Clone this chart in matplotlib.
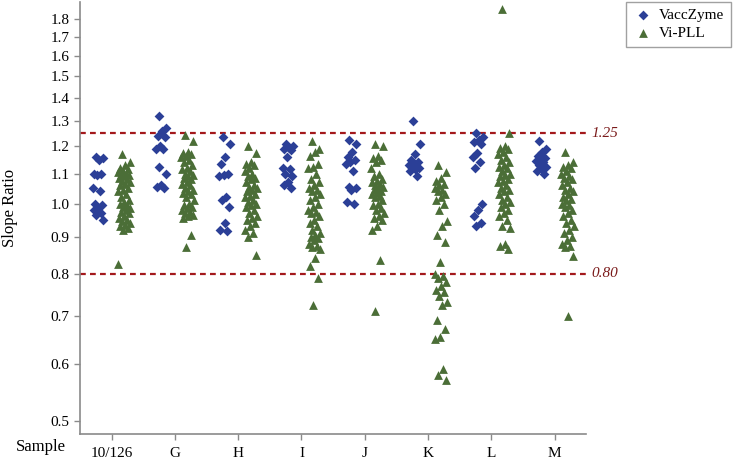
import numpy as np
import matplotlib
matplotlib.use("Agg")
import matplotlib.pyplot as plt
from matplotlib.ticker import FixedLocator, FixedFormatter, NullLocator

plt.rcParams['font.family'] = ['Liberation Serif', 'DejaVu Serif']

samples = ["10/126", "G", "H", "I", "J", "K", "L", "M"]

vacczyme = {
    "10/126": [1.16, 1.155, 1.15, 1.10, 1.10, 1.095, 1.05, 1.04, 1.0, 0.995, 0.985, 0.98, 0.97, 0.965, 0.95],
    "G": [1.32, 1.27, 1.26, 1.24, 1.235, 1.20, 1.19, 1.19, 1.125, 1.10, 1.06, 1.055, 1.05],
    "H": [1.235, 1.21, 1.16, 1.135, 1.10, 1.095, 1.09, 1.02, 1.01, 0.99, 0.94, 0.92, 0.915],
    "I": [1.21, 1.20, 1.195, 1.19, 1.185, 1.16, 1.12, 1.115, 1.10, 1.09, 1.07, 1.06, 1.05],
    "J": [1.225, 1.21, 1.18, 1.16, 1.15, 1.14, 1.135, 1.11, 1.055, 1.05, 1.045, 1.005, 1.0],
    "K": [1.30, 1.21, 1.17, 1.15, 1.14, 1.135, 1.13, 1.125, 1.12, 1.12, 1.115, 1.11, 1.09],
    "L": [1.25, 1.235, 1.225, 1.215, 1.21, 1.175, 1.16, 1.14, 1.12, 1.0, 0.98, 0.96, 0.94, 0.93],
    "M": [1.22, 1.19, 1.18, 1.165, 1.155, 1.15, 1.145, 1.14, 1.13, 1.125, 1.12, 1.11, 1.10],
}

vipll = {
    "10/126": [1.17, 1.14, 1.13, 1.12, 1.115, 1.11, 1.105, 1.10, 1.10, 1.095, 1.09, 1.085, 1.08, 1.075,
               1.07, 1.065, 1.06, 1.05, 1.045, 1.04, 1.03, 1.02, 1.01, 1.005, 1.0, 0.995, 0.99, 0.985,
               0.98, 0.975, 0.97, 0.96, 0.955, 0.95, 0.945, 0.94, 0.935, 0.93, 0.925, 0.92, 0.825],
    "G": [1.245, 1.22, 1.18, 1.175, 1.17, 1.165, 1.16, 1.15, 1.14, 1.13, 1.12, 1.115, 1.11, 1.10, 1.095,
          1.09, 1.085, 1.08, 1.07, 1.065, 1.06, 1.05, 1.045, 1.04, 1.035, 1.03, 1.02, 1.01, 1.0, 0.995,
          0.99, 0.985, 0.98, 0.975, 0.97, 0.965, 0.96, 0.955, 0.905, 0.87],
    "H": [1.20, 1.175, 1.14, 1.135, 1.13, 1.12, 1.11, 1.10, 1.09, 1.085, 1.08, 1.07, 1.06, 1.055, 1.05,
          1.045, 1.04, 1.03, 1.025, 1.02, 1.01, 1.005, 1.0, 0.995, 0.99, 0.98, 0.97, 0.96, 0.955, 0.95,
          0.94, 0.93, 0.92, 0.91, 0.90, 0.85],
    "I": [1.22, 1.19, 1.18, 1.165, 1.135, 1.125, 1.12, 1.10, 1.08, 1.07, 1.06, 1.05, 1.045, 1.04, 1.03,
          1.02, 1.01, 1.0, 0.99, 0.98, 0.975, 0.97, 0.96, 0.95, 0.94, 0.93, 0.92, 0.91, 0.905, 0.90,
          0.895, 0.89, 0.88, 0.875, 0.87, 0.865, 0.84, 0.82, 0.79, 0.725],
    "J": [1.21, 1.20, 1.165, 1.155, 1.15, 1.14, 1.12, 1.10, 1.09, 1.08, 1.075, 1.07, 1.065, 1.06, 1.055,
          1.05, 1.045, 1.04, 1.035, 1.03, 1.025, 1.02, 1.01, 1.0, 0.995, 0.985, 0.98, 0.97, 0.96, 0.955,
          0.95, 0.93, 0.92, 0.835, 0.71],
    "K": [1.13, 1.105, 1.085, 1.075, 1.065, 1.06, 1.05, 1.045, 1.04, 1.03, 1.02, 1.01, 1.0, 0.98, 0.945,
          0.93, 0.905, 0.885, 0.83, 0.80, 0.795, 0.79, 0.78, 0.77, 0.76, 0.755, 0.745, 0.73, 0.725, 0.69,
          0.67, 0.655, 0.65, 0.59, 0.58, 0.57],
    "L": [1.86, 1.25, 1.20, 1.195, 1.19, 1.18, 1.17, 1.16, 1.15, 1.14, 1.13, 1.125, 1.12, 1.11, 1.10,
          1.095, 1.09, 1.08, 1.075, 1.07, 1.06, 1.05, 1.045, 1.04, 1.03, 1.02, 1.01, 1.005, 1.0, 0.99,
          0.98, 0.97, 0.96, 0.95, 0.93, 0.925, 0.88, 0.875, 0.865],
    "M": [1.18, 1.14, 1.13, 1.125, 1.12, 1.11, 1.10, 1.09, 1.085, 1.08, 1.07, 1.06, 1.05, 1.045, 1.04,
          1.03, 1.02, 1.015, 1.01, 1.0, 0.995, 0.99, 0.98, 0.97, 0.96, 0.95, 0.94, 0.93, 0.92, 0.91, 0.9,
          0.89, 0.88, 0.875, 0.87, 0.845, 0.70],
}

ytick_vals = [0.5, 0.6, 0.7, 0.8, 0.9, 1.0, 1.1, 1.2, 1.3, 1.4, 1.5, 1.6, 1.7, 1.8]
ytick_labels = ["0.5", "0.6", "0.7", "0.8", "0.9", "1.0", "1.1", "1.2", "1.3", "1.4", "1.5", "1.6", "1.7", "1.8"]
limits = [1.25, 0.80]
limit_labels = ["1.25", "0.80"]

blue = "#2b3f97"
green = "#4b6e37"
red = "#a3191c"
gray = "#8a8a8a"

fig = plt.figure(figsize=(7.33, 4.59), dpi=100)
ax = fig.add_axes([0.109, 0.054, 0.691, 0.942])


def jitter(n, width):
    # deterministic low-discrepancy horizontal spread (position only)
    k = np.arange(n)
    return width * (2 * ((k * 0.6180339 + 0.3) % 1.0) - 1)


for i, s in enumerate(samples):
    vb = np.array(vacczyme[s])
    vg = np.array(vipll[s])
    ax.scatter(i - 0.21 + jitter(len(vb), 0.09), vb, marker="D", s=25, color=blue,
               linewidths=0, label="VaccZyme" if i == 0 else None, zorder=3)
    ax.scatter(i + 0.2 + jitter(len(vg), 0.1), vg, marker="^", s=40, color=green,
               linewidths=0, label="Vi-PLL" if i == 0 else None, zorder=3)

for v, lab in zip(limits, limit_labels):
    ax.axhline(v, color=red, linestyle=(0, (2.6, 1.9)), linewidth=1.6, zorder=2)
    ax.text(1.01, v, lab, transform=ax.get_yaxis_transform(), color="#7a1a1a",
            fontstyle="italic", fontsize=11, va="center", ha="left")

ax.set_yscale("log")
ax.set_ylim(0.48, 1.9)
ax.set_xlim(-0.5, 7.5)
ax.yaxis.set_major_locator(FixedLocator(ytick_vals))
ax.yaxis.set_major_formatter(FixedFormatter(ytick_labels))
ax.yaxis.set_minor_locator(NullLocator())
ax.set_xticks(range(len(samples)))
ax.set_xticklabels(samples)

for sp in ["top", "right"]:
    ax.spines[sp].set_visible(False)
for sp in ["left", "bottom"]:
    ax.spines[sp].set_color(gray)
    ax.spines[sp].set_linewidth(1.2)
ax.tick_params(axis="both", colors=gray, labelcolor="black", labelsize=11, length=4, width=1)
ax.tick_params(axis="x", pad=5)

fig.text(0.013, 0.547, "Slope Ratio", fontsize=12, rotation=90, ha="center", va="center")
fig.text(0.056, 0.027, "Sample", fontsize=12, ha="center", va="center")

leg = fig.legend(loc="upper right", bbox_to_anchor=(0.997, 0.996), borderaxespad=0.0, fontsize=11,
                 frameon=True, fancybox=False, edgecolor=gray, handletextpad=0.4,
                 borderpad=0.45, labelspacing=0.25, handlelength=1.3)
leg.get_frame().set_linewidth(1.0)

fig.savefig("out.png", dpi=100)
